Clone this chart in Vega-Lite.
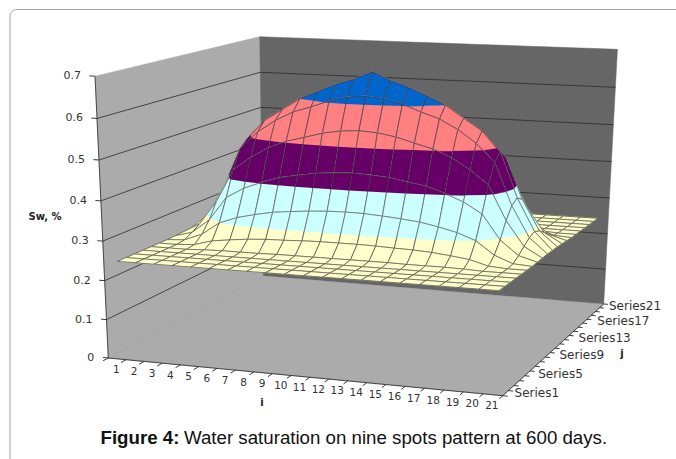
{"$schema":"https://vega.github.io/schema/vega-lite/v6.json","width":676,"height":459,"padding":0,"background":"#ffffff","autosize":{"type":"none"},"config":{"view":{"stroke":null}},
"resolve":{"scale":{"fill":"independent","stroke":"independent"}},
"datasets":{"surface":[
{"i":1,"j":21,"s":0.246},{"i":2,"j":21,"s":0.246},{"i":3,"j":21,"s":0.246},{"i":4,"j":21,"s":0.246},{"i":5,"j":21,"s":0.246},{"i":6,"j":21,"s":0.246},{"i":7,"j":21,"s":0.246},{"i":8,"j":21,"s":0.246},{"i":9,"j":21,"s":0.246},{"i":10,"j":21,"s":0.246},{"i":11,"j":21,"s":0.246},{"i":12,"j":21,"s":0.246},{"i":13,"j":21,"s":0.246},{"i":14,"j":21,"s":0.246},{"i":15,"j":21,"s":0.246},{"i":16,"j":21,"s":0.246},{"i":17,"j":21,"s":0.246},{"i":18,"j":21,"s":0.246},{"i":19,"j":21,"s":0.246},{"i":20,"j":21,"s":0.246},{"i":21,"j":21,"s":0.246},
{"i":1,"j":20,"s":0.246},{"i":2,"j":20,"s":0.246},{"i":3,"j":20,"s":0.246},{"i":4,"j":20,"s":0.246},{"i":5,"j":20,"s":0.246},{"i":6,"j":20,"s":0.246},{"i":7,"j":20,"s":0.246},{"i":8,"j":20,"s":0.246},{"i":9,"j":20,"s":0.246},{"i":10,"j":20,"s":0.246},{"i":11,"j":20,"s":0.246},{"i":12,"j":20,"s":0.246},{"i":13,"j":20,"s":0.246},{"i":14,"j":20,"s":0.246},{"i":15,"j":20,"s":0.246},{"i":16,"j":20,"s":0.246},{"i":17,"j":20,"s":0.246},{"i":18,"j":20,"s":0.246},{"i":19,"j":20,"s":0.246},{"i":20,"j":20,"s":0.246},{"i":21,"j":20,"s":0.246},
{"i":1,"j":19,"s":0.246},{"i":2,"j":19,"s":0.246},{"i":3,"j":19,"s":0.246},{"i":4,"j":19,"s":0.246},{"i":5,"j":19,"s":0.246},{"i":6,"j":19,"s":0.246},{"i":7,"j":19,"s":0.246},{"i":8,"j":19,"s":0.246},{"i":9,"j":19,"s":0.246},{"i":10,"j":19,"s":0.246},{"i":11,"j":19,"s":0.246},{"i":12,"j":19,"s":0.246},{"i":13,"j":19,"s":0.246},{"i":14,"j":19,"s":0.246},{"i":15,"j":19,"s":0.246},{"i":16,"j":19,"s":0.246},{"i":17,"j":19,"s":0.246},{"i":18,"j":19,"s":0.246},{"i":19,"j":19,"s":0.246},{"i":20,"j":19,"s":0.246},{"i":21,"j":19,"s":0.246},
{"i":1,"j":18,"s":0.246},{"i":2,"j":18,"s":0.246},{"i":3,"j":18,"s":0.246},{"i":4,"j":18,"s":0.246},{"i":5,"j":18,"s":0.246},{"i":6,"j":18,"s":0.246},{"i":7,"j":18,"s":0.246},{"i":8,"j":18,"s":0.246},{"i":9,"j":18,"s":0.246},{"i":10,"j":18,"s":0.246},{"i":11,"j":18,"s":0.246},{"i":12,"j":18,"s":0.246},{"i":13,"j":18,"s":0.246},{"i":14,"j":18,"s":0.246},{"i":15,"j":18,"s":0.246},{"i":16,"j":18,"s":0.246},{"i":17,"j":18,"s":0.246},{"i":18,"j":18,"s":0.246},{"i":19,"j":18,"s":0.246},{"i":20,"j":18,"s":0.246},{"i":21,"j":18,"s":0.246},
{"i":1,"j":17,"s":0.246},{"i":2,"j":17,"s":0.246},{"i":3,"j":17,"s":0.246},{"i":4,"j":17,"s":0.248},{"i":5,"j":17,"s":0.249},{"i":6,"j":17,"s":0.249},{"i":7,"j":17,"s":0.249},{"i":8,"j":17,"s":0.25},{"i":9,"j":17,"s":0.25},{"i":10,"j":17,"s":0.25},{"i":11,"j":17,"s":0.25},{"i":12,"j":17,"s":0.25},{"i":13,"j":17,"s":0.25},{"i":14,"j":17,"s":0.25},{"i":15,"j":17,"s":0.249},{"i":16,"j":17,"s":0.249},{"i":17,"j":17,"s":0.249},{"i":18,"j":17,"s":0.248},{"i":19,"j":17,"s":0.246},{"i":20,"j":17,"s":0.246},{"i":21,"j":17,"s":0.246},
{"i":1,"j":16,"s":0.246},{"i":2,"j":16,"s":0.246},{"i":3,"j":16,"s":0.249},{"i":4,"j":16,"s":0.262},{"i":5,"j":16,"s":0.268},{"i":6,"j":16,"s":0.273},{"i":7,"j":16,"s":0.276},{"i":8,"j":16,"s":0.277},{"i":9,"j":16,"s":0.279},{"i":10,"j":16,"s":0.28},{"i":11,"j":16,"s":0.28},{"i":12,"j":16,"s":0.28},{"i":13,"j":16,"s":0.279},{"i":14,"j":16,"s":0.277},{"i":15,"j":16,"s":0.276},{"i":16,"j":16,"s":0.273},{"i":17,"j":16,"s":0.268},{"i":18,"j":16,"s":0.262},{"i":19,"j":16,"s":0.249},{"i":20,"j":16,"s":0.246},{"i":21,"j":16,"s":0.246},
{"i":1,"j":15,"s":0.246},{"i":2,"j":15,"s":0.249},{"i":3,"j":15,"s":0.267},{"i":4,"j":15,"s":0.3},{"i":5,"j":15,"s":0.317},{"i":6,"j":15,"s":0.328},{"i":7,"j":15,"s":0.337},{"i":8,"j":15,"s":0.342},{"i":9,"j":15,"s":0.346},{"i":10,"j":15,"s":0.349},{"i":11,"j":15,"s":0.35},{"i":12,"j":15,"s":0.349},{"i":13,"j":15,"s":0.346},{"i":14,"j":15,"s":0.342},{"i":15,"j":15,"s":0.337},{"i":16,"j":15,"s":0.328},{"i":17,"j":15,"s":0.317},{"i":18,"j":15,"s":0.3},{"i":19,"j":15,"s":0.267},{"i":20,"j":15,"s":0.249},{"i":21,"j":15,"s":0.246},
{"i":1,"j":14,"s":0.247},{"i":2,"j":14,"s":0.26},{"i":3,"j":14,"s":0.296},{"i":4,"j":14,"s":0.358},{"i":5,"j":14,"s":0.385},{"i":6,"j":14,"s":0.403},{"i":7,"j":14,"s":0.418},{"i":8,"j":14,"s":0.426},{"i":9,"j":14,"s":0.434},{"i":10,"j":14,"s":0.438},{"i":11,"j":14,"s":0.44},{"i":12,"j":14,"s":0.438},{"i":13,"j":14,"s":0.434},{"i":14,"j":14,"s":0.426},{"i":15,"j":14,"s":0.418},{"i":16,"j":14,"s":0.403},{"i":17,"j":14,"s":0.385},{"i":18,"j":14,"s":0.358},{"i":19,"j":14,"s":0.296},{"i":20,"j":14,"s":0.26},{"i":21,"j":14,"s":0.247},
{"i":1,"j":13,"s":0.248},{"i":2,"j":13,"s":0.274},{"i":3,"j":13,"s":0.336},{"i":4,"j":13,"s":0.422},{"i":5,"j":13,"s":0.457},{"i":6,"j":13,"s":0.484},{"i":7,"j":13,"s":0.504},{"i":8,"j":13,"s":0.516},{"i":9,"j":13,"s":0.529},{"i":10,"j":13,"s":0.537},{"i":11,"j":13,"s":0.54},{"i":12,"j":13,"s":0.537},{"i":13,"j":13,"s":0.529},{"i":14,"j":13,"s":0.516},{"i":15,"j":13,"s":0.504},{"i":16,"j":13,"s":0.484},{"i":17,"j":13,"s":0.457},{"i":18,"j":13,"s":0.422},{"i":19,"j":13,"s":0.336},{"i":20,"j":13,"s":0.274},{"i":21,"j":13,"s":0.248},
{"i":1,"j":12,"s":0.249},{"i":2,"j":12,"s":0.287},{"i":3,"j":12,"s":0.365},{"i":4,"j":12,"s":0.471},{"i":5,"j":12,"s":0.516},{"i":6,"j":12,"s":0.548},{"i":7,"j":12,"s":0.572},{"i":8,"j":12,"s":0.587},{"i":9,"j":12,"s":0.604},{"i":10,"j":12,"s":0.616},{"i":11,"j":12,"s":0.62},{"i":12,"j":12,"s":0.616},{"i":13,"j":12,"s":0.604},{"i":14,"j":12,"s":0.587},{"i":15,"j":12,"s":0.572},{"i":16,"j":12,"s":0.548},{"i":17,"j":12,"s":0.516},{"i":18,"j":12,"s":0.471},{"i":19,"j":12,"s":0.365},{"i":20,"j":12,"s":0.287},{"i":21,"j":12,"s":0.249},
{"i":1,"j":11,"s":0.249},{"i":2,"j":11,"s":0.294},{"i":3,"j":11,"s":0.377},{"i":4,"j":11,"s":0.49},{"i":5,"j":11,"s":0.54},{"i":6,"j":11,"s":0.57},{"i":7,"j":11,"s":0.6},{"i":8,"j":11,"s":0.62},{"i":9,"j":11,"s":0.64},{"i":10,"j":11,"s":0.655},{"i":11,"j":11,"s":0.675},{"i":12,"j":11,"s":0.655},{"i":13,"j":11,"s":0.64},{"i":14,"j":11,"s":0.62},{"i":15,"j":11,"s":0.6},{"i":16,"j":11,"s":0.57},{"i":17,"j":11,"s":0.54},{"i":18,"j":11,"s":0.49},{"i":19,"j":11,"s":0.377},{"i":20,"j":11,"s":0.294},{"i":21,"j":11,"s":0.249},
{"i":1,"j":10,"s":0.249},{"i":2,"j":10,"s":0.287},{"i":3,"j":10,"s":0.365},{"i":4,"j":10,"s":0.471},{"i":5,"j":10,"s":0.516},{"i":6,"j":10,"s":0.548},{"i":7,"j":10,"s":0.572},{"i":8,"j":10,"s":0.587},{"i":9,"j":10,"s":0.604},{"i":10,"j":10,"s":0.616},{"i":11,"j":10,"s":0.62},{"i":12,"j":10,"s":0.616},{"i":13,"j":10,"s":0.604},{"i":14,"j":10,"s":0.587},{"i":15,"j":10,"s":0.572},{"i":16,"j":10,"s":0.548},{"i":17,"j":10,"s":0.516},{"i":18,"j":10,"s":0.471},{"i":19,"j":10,"s":0.365},{"i":20,"j":10,"s":0.287},{"i":21,"j":10,"s":0.249},
{"i":1,"j":9,"s":0.248},{"i":2,"j":9,"s":0.274},{"i":3,"j":9,"s":0.336},{"i":4,"j":9,"s":0.422},{"i":5,"j":9,"s":0.457},{"i":6,"j":9,"s":0.484},{"i":7,"j":9,"s":0.504},{"i":8,"j":9,"s":0.516},{"i":9,"j":9,"s":0.529},{"i":10,"j":9,"s":0.537},{"i":11,"j":9,"s":0.54},{"i":12,"j":9,"s":0.537},{"i":13,"j":9,"s":0.529},{"i":14,"j":9,"s":0.516},{"i":15,"j":9,"s":0.504},{"i":16,"j":9,"s":0.484},{"i":17,"j":9,"s":0.457},{"i":18,"j":9,"s":0.422},{"i":19,"j":9,"s":0.336},{"i":20,"j":9,"s":0.274},{"i":21,"j":9,"s":0.248},
{"i":1,"j":8,"s":0.247},{"i":2,"j":8,"s":0.26},{"i":3,"j":8,"s":0.296},{"i":4,"j":8,"s":0.358},{"i":5,"j":8,"s":0.385},{"i":6,"j":8,"s":0.403},{"i":7,"j":8,"s":0.418},{"i":8,"j":8,"s":0.426},{"i":9,"j":8,"s":0.434},{"i":10,"j":8,"s":0.438},{"i":11,"j":8,"s":0.44},{"i":12,"j":8,"s":0.438},{"i":13,"j":8,"s":0.434},{"i":14,"j":8,"s":0.426},{"i":15,"j":8,"s":0.418},{"i":16,"j":8,"s":0.403},{"i":17,"j":8,"s":0.385},{"i":18,"j":8,"s":0.358},{"i":19,"j":8,"s":0.296},{"i":20,"j":8,"s":0.26},{"i":21,"j":8,"s":0.247},
{"i":1,"j":7,"s":0.246},{"i":2,"j":7,"s":0.249},{"i":3,"j":7,"s":0.267},{"i":4,"j":7,"s":0.3},{"i":5,"j":7,"s":0.317},{"i":6,"j":7,"s":0.328},{"i":7,"j":7,"s":0.337},{"i":8,"j":7,"s":0.342},{"i":9,"j":7,"s":0.346},{"i":10,"j":7,"s":0.349},{"i":11,"j":7,"s":0.35},{"i":12,"j":7,"s":0.349},{"i":13,"j":7,"s":0.346},{"i":14,"j":7,"s":0.342},{"i":15,"j":7,"s":0.337},{"i":16,"j":7,"s":0.328},{"i":17,"j":7,"s":0.317},{"i":18,"j":7,"s":0.3},{"i":19,"j":7,"s":0.267},{"i":20,"j":7,"s":0.249},{"i":21,"j":7,"s":0.246},
{"i":1,"j":6,"s":0.246},{"i":2,"j":6,"s":0.246},{"i":3,"j":6,"s":0.249},{"i":4,"j":6,"s":0.262},{"i":5,"j":6,"s":0.268},{"i":6,"j":6,"s":0.273},{"i":7,"j":6,"s":0.276},{"i":8,"j":6,"s":0.277},{"i":9,"j":6,"s":0.279},{"i":10,"j":6,"s":0.28},{"i":11,"j":6,"s":0.28},{"i":12,"j":6,"s":0.28},{"i":13,"j":6,"s":0.279},{"i":14,"j":6,"s":0.277},{"i":15,"j":6,"s":0.276},{"i":16,"j":6,"s":0.273},{"i":17,"j":6,"s":0.268},{"i":18,"j":6,"s":0.262},{"i":19,"j":6,"s":0.249},{"i":20,"j":6,"s":0.246},{"i":21,"j":6,"s":0.246},
{"i":1,"j":5,"s":0.246},{"i":2,"j":5,"s":0.246},{"i":3,"j":5,"s":0.246},{"i":4,"j":5,"s":0.248},{"i":5,"j":5,"s":0.249},{"i":6,"j":5,"s":0.249},{"i":7,"j":5,"s":0.249},{"i":8,"j":5,"s":0.25},{"i":9,"j":5,"s":0.25},{"i":10,"j":5,"s":0.25},{"i":11,"j":5,"s":0.25},{"i":12,"j":5,"s":0.25},{"i":13,"j":5,"s":0.25},{"i":14,"j":5,"s":0.25},{"i":15,"j":5,"s":0.249},{"i":16,"j":5,"s":0.249},{"i":17,"j":5,"s":0.249},{"i":18,"j":5,"s":0.248},{"i":19,"j":5,"s":0.246},{"i":20,"j":5,"s":0.246},{"i":21,"j":5,"s":0.246},
{"i":1,"j":4,"s":0.246},{"i":2,"j":4,"s":0.246},{"i":3,"j":4,"s":0.246},{"i":4,"j":4,"s":0.246},{"i":5,"j":4,"s":0.246},{"i":6,"j":4,"s":0.246},{"i":7,"j":4,"s":0.246},{"i":8,"j":4,"s":0.246},{"i":9,"j":4,"s":0.246},{"i":10,"j":4,"s":0.246},{"i":11,"j":4,"s":0.246},{"i":12,"j":4,"s":0.246},{"i":13,"j":4,"s":0.246},{"i":14,"j":4,"s":0.246},{"i":15,"j":4,"s":0.246},{"i":16,"j":4,"s":0.246},{"i":17,"j":4,"s":0.246},{"i":18,"j":4,"s":0.246},{"i":19,"j":4,"s":0.246},{"i":20,"j":4,"s":0.246},{"i":21,"j":4,"s":0.246},
{"i":1,"j":3,"s":0.246},{"i":2,"j":3,"s":0.246},{"i":3,"j":3,"s":0.246},{"i":4,"j":3,"s":0.246},{"i":5,"j":3,"s":0.246},{"i":6,"j":3,"s":0.246},{"i":7,"j":3,"s":0.246},{"i":8,"j":3,"s":0.246},{"i":9,"j":3,"s":0.246},{"i":10,"j":3,"s":0.246},{"i":11,"j":3,"s":0.246},{"i":12,"j":3,"s":0.246},{"i":13,"j":3,"s":0.246},{"i":14,"j":3,"s":0.246},{"i":15,"j":3,"s":0.246},{"i":16,"j":3,"s":0.246},{"i":17,"j":3,"s":0.246},{"i":18,"j":3,"s":0.246},{"i":19,"j":3,"s":0.246},{"i":20,"j":3,"s":0.246},{"i":21,"j":3,"s":0.246},
{"i":1,"j":2,"s":0.246},{"i":2,"j":2,"s":0.246},{"i":3,"j":2,"s":0.246},{"i":4,"j":2,"s":0.246},{"i":5,"j":2,"s":0.246},{"i":6,"j":2,"s":0.246},{"i":7,"j":2,"s":0.246},{"i":8,"j":2,"s":0.246},{"i":9,"j":2,"s":0.246},{"i":10,"j":2,"s":0.246},{"i":11,"j":2,"s":0.246},{"i":12,"j":2,"s":0.246},{"i":13,"j":2,"s":0.246},{"i":14,"j":2,"s":0.246},{"i":15,"j":2,"s":0.246},{"i":16,"j":2,"s":0.246},{"i":17,"j":2,"s":0.246},{"i":18,"j":2,"s":0.246},{"i":19,"j":2,"s":0.246},{"i":20,"j":2,"s":0.246},{"i":21,"j":2,"s":0.246},
{"i":1,"j":1,"s":0.246},{"i":2,"j":1,"s":0.246},{"i":3,"j":1,"s":0.246},{"i":4,"j":1,"s":0.246},{"i":5,"j":1,"s":0.246},{"i":6,"j":1,"s":0.246},{"i":7,"j":1,"s":0.246},{"i":8,"j":1,"s":0.246},{"i":9,"j":1,"s":0.246},{"i":10,"j":1,"s":0.246},{"i":11,"j":1,"s":0.246},{"i":12,"j":1,"s":0.246},{"i":13,"j":1,"s":0.246},{"i":14,"j":1,"s":0.246},{"i":15,"j":1,"s":0.246},{"i":16,"j":1,"s":0.246},{"i":17,"j":1,"s":0.246},{"i":18,"j":1,"s":0.246},{"i":19,"j":1,"s":0.246},{"i":20,"j":1,"s":0.246},{"i":21,"j":1,"s":0.246}
]},
"encoding":{"x":{"field":"px","type":"quantitative","axis":null,"scale":{"domain":[0,676],"nice":false,"zero":false}},"y":{"field":"py","type":"quantitative","axis":null,"scale":{"domain":[0,459],"reverse":true,"nice":false,"zero":false}}},
"layer":[
{"data":{"values":[{"part":"left","o":0,"i":0.5,"j":0.5,"s":0},{"part":"left","o":1,"i":0.5,"j":0.5,"s":0.7},{"part":"left","o":2,"i":0.5,"j":21.5,"s":0.7},{"part":"left","o":3,"i":0.5,"j":21.5,"s":0},
{"part":"floor","o":0,"i":0.5,"j":0.5,"s":0},{"part":"floor","o":1,"i":21.5,"j":0.5,"s":0},{"part":"floor","o":2,"i":21.5,"j":21.5,"s":0},{"part":"floor","o":3,"i":0.5,"j":21.5,"s":0},{"part":"floor","o":4,"i":0.5,"j":0.5,"s":0},
{"part":"back","o":0,"i":0.5,"j":21.5,"s":0},{"part":"back","o":1,"i":0.5,"j":21.5,"s":0.7},{"part":"back","o":2,"i":21.5,"j":21.5,"s":0.7},{"part":"back","o":3,"i":21.5,"j":21.5,"s":0}]},
"transform":[{"calculate":"(datum.i-0.5)/21","as":"u"},{"calculate":"(datum.j-0.5)/21","as":"v"},{"calculate":"datum.s/0.7","as":"z"},{"calculate":"1-0.04906*datum.u+0.17319*datum.v-0.055*datum.z","as":"w"},{"calculate":"(108.3+369.74*datum.u+200.6*datum.v-18.5*datum.z)/datum.w","as":"px"},{"calculate":"(358+18.29*datum.u-34.55*datum.v-286*datum.z-6.6*datum.u*datum.z+3.6*datum.v*datum.z)/datum.w","as":"py"}],
"mark":{"type":"line","strokeWidth":0.5},
"encoding":{"order":{"field":"o"},"fill":{"field":"part","type":"nominal","legend":null,"scale":{"domain":["left","floor","back"],"range":["#ababab","#ababab","#666666"]}},"stroke":{"field":"part","type":"nominal","legend":null,"scale":{"domain":["left","floor","back"],"range":["#ababab","#8c8c8c","#666666"]}}}},
{"data":{"values":[{"g":1,"o":0,"i":0.5,"j":0.5,"s":0.1},{"g":1,"o":1,"i":0.5,"j":21.5,"s":0.1},{"g":1,"o":2,"i":21.5,"j":21.5,"s":0.1},
{"g":2,"o":0,"i":0.5,"j":0.5,"s":0.2},{"g":2,"o":1,"i":0.5,"j":21.5,"s":0.2},{"g":2,"o":2,"i":21.5,"j":21.5,"s":0.2},
{"g":3,"o":0,"i":0.5,"j":0.5,"s":0.3},{"g":3,"o":1,"i":0.5,"j":21.5,"s":0.3},{"g":3,"o":2,"i":21.5,"j":21.5,"s":0.3},
{"g":4,"o":0,"i":0.5,"j":0.5,"s":0.4},{"g":4,"o":1,"i":0.5,"j":21.5,"s":0.4},{"g":4,"o":2,"i":21.5,"j":21.5,"s":0.4},
{"g":5,"o":0,"i":0.5,"j":0.5,"s":0.5},{"g":5,"o":1,"i":0.5,"j":21.5,"s":0.5},{"g":5,"o":2,"i":21.5,"j":21.5,"s":0.5},
{"g":6,"o":0,"i":0.5,"j":0.5,"s":0.6},{"g":6,"o":1,"i":0.5,"j":21.5,"s":0.6},{"g":6,"o":2,"i":21.5,"j":21.5,"s":0.6},
{"g":7,"o":0,"i":0.5,"j":0.5,"s":0},{"g":7,"o":1,"i":0.5,"j":0.5,"s":0.7},
{"g":9,"o":0,"i":0.5,"j":0.5,"s":0},{"g":9,"o":1,"i":21.5,"j":0.5,"s":0},{"g":9,"o":2,"i":21.5,"j":21.5,"s":0}]},
"transform":[{"calculate":"(datum.i-0.5)/21","as":"u"},{"calculate":"(datum.j-0.5)/21","as":"v"},{"calculate":"datum.s/0.7","as":"z"},{"calculate":"1-0.04906*datum.u+0.17319*datum.v-0.055*datum.z","as":"w"},{"calculate":"(108.3+369.74*datum.u+200.6*datum.v-18.5*datum.z)/datum.w","as":"px"},{"calculate":"(358+18.29*datum.u-34.55*datum.v-286*datum.z-6.6*datum.u*datum.z+3.6*datum.v*datum.z)/datum.w","as":"py"}],
"mark":{"type":"line","stroke":"#2b2b2b","strokeWidth":0.8},
"encoding":{"order":{"field":"o"},"detail":{"field":"g"}}},
{"data":{"name":"surface"},
"transform":[{"filter":"datum.i<21 && datum.j<21"},
{"calculate":"data('surface')[(21-datum.j)*21+datum.i].s","as":"s1"},
{"calculate":"data('surface')[(20-datum.j)*21+datum.i].s","as":"s2"},
{"calculate":"data('surface')[(20-datum.j)*21+datum.i-1].s","as":"s3"},
{"calculate":"[datum.s,datum.s1,datum.s2,datum.s3]","as":"sa"},
{"calculate":"[datum.i,datum.i+1,datum.i+1,datum.i]","as":"ia"},
{"calculate":"[datum.j,datum.j,datum.j+1,datum.j+1]","as":"ja"},
{"calculate":"[0,1,2,3,4,5]","as":"band"},{"flatten":["band"]},
{"calculate":"[-1,0.3,0.4,0.5,0.6,-1][datum.band]","as":"t"},
{"filter":"max(datum.s,datum.s1,datum.s2,datum.s3)>=datum.t"},
{"calculate":"[0,1,2,3,4,5,6,7,8]","as":"slot"},{"flatten":["slot"]},
{"calculate":"floor(datum.slot/2)%4","as":"a"},{"calculate":"(datum.a+1)%4","as":"b"},
{"calculate":"datum.sa[datum.a]","as":"sA"},{"calculate":"datum.sa[datum.b]","as":"sB"},
{"filter":"datum.slot==8 ? datum.band==5 : (datum.slot%2==0 ? datum.sA>=datum.t : (datum.sA>=datum.t)!=(datum.sB>=datum.t))"},
{"calculate":"datum.slot%2==0 ? 0 : (datum.t-datum.sA)/(datum.sB-datum.sA)","as":"f"},
{"calculate":"datum.ia[datum.a]+(datum.ia[datum.b]-datum.ia[datum.a])*datum.f","as":"I"},
{"calculate":"datum.ja[datum.a]+(datum.ja[datum.b]-datum.ja[datum.a])*datum.f","as":"J"},
{"calculate":"datum.sA+(datum.sB-datum.sA)*datum.f","as":"S"},
{"calculate":"datum.i*1000+datum.j*10+datum.band","as":"g"},
{"calculate":"(datum.I-0.5)/21","as":"u"},{"calculate":"(datum.J-0.5)/21","as":"v"},{"calculate":"datum.S/0.7","as":"z"},{"calculate":"1-0.04906*datum.u+0.17319*datum.v-0.055*datum.z","as":"w"},{"calculate":"(108.3+369.74*datum.u+200.6*datum.v-18.5*datum.z)/datum.w","as":"px"},{"calculate":"(358+18.29*datum.u-34.55*datum.v-286*datum.z-6.6*datum.u*datum.z+3.6*datum.v*datum.z)/datum.w","as":"py"}],
"mark":{"type":"line","strokeWidth":0.6,"strokeJoin":"round"},
"encoding":{"order":{"field":"slot"},"detail":{"field":"g"},
"fill":{"field":"band","type":"nominal","legend":null,"scale":{"domain":[0,1,2,3,4,5],"range":["#ffffcc","#ccffff","#660066","#ff8080","#0066cc","transparent"]}},
"stroke":{"field":"band","type":"nominal","legend":null,"scale":{"domain":[0,1,2,3,4,5],"range":["#ffffcc","#ccffff","#660066","#ff8080","#0066cc","#333333"]}}}},
{"data":{"values":[{"a":"i","v":0.5},{"a":"i","v":1.5},{"a":"i","v":2.5},{"a":"i","v":3.5},{"a":"i","v":4.5},{"a":"i","v":5.5},{"a":"i","v":6.5},{"a":"i","v":7.5},{"a":"i","v":8.5},{"a":"i","v":9.5},{"a":"i","v":10.5},{"a":"i","v":11.5},{"a":"i","v":12.5},{"a":"i","v":13.5},{"a":"i","v":14.5},{"a":"i","v":15.5},{"a":"i","v":16.5},{"a":"i","v":17.5},{"a":"i","v":18.5},{"a":"i","v":19.5},{"a":"i","v":20.5},{"a":"i","v":21.5},
{"a":"j","v":0.5},{"a":"j","v":1.5},{"a":"j","v":2.5},{"a":"j","v":3.5},{"a":"j","v":4.5},{"a":"j","v":5.5},{"a":"j","v":6.5},{"a":"j","v":7.5},{"a":"j","v":8.5},{"a":"j","v":9.5},{"a":"j","v":10.5},{"a":"j","v":11.5},{"a":"j","v":12.5},{"a":"j","v":13.5},{"a":"j","v":14.5},{"a":"j","v":15.5},{"a":"j","v":16.5},{"a":"j","v":17.5},{"a":"j","v":18.5},{"a":"j","v":19.5},{"a":"j","v":20.5},{"a":"j","v":21.5},
{"a":"s","v":0},{"a":"s","v":0.1},{"a":"s","v":0.2},{"a":"s","v":0.3},{"a":"s","v":0.4},{"a":"s","v":0.5},{"a":"s","v":0.6},{"a":"s","v":0.7}]},
"transform":[{"calculate":"[0,1]","as":"o"},{"flatten":["o"]},
{"calculate":"datum.a=='i' ? datum.v : (datum.a=='j' ? 21.5+0.25*datum.o : 0.5-0.3*datum.o)","as":"i"},
{"calculate":"datum.a=='i' ? 0.5-0.6*datum.o : (datum.a=='j' ? datum.v : 0.5)","as":"j"},
{"calculate":"datum.a=='s' ? datum.v : 0","as":"s"},
{"calculate":"datum.a+datum.v","as":"g"},
{"calculate":"(datum.i-0.5)/21","as":"u"},{"calculate":"(datum.j-0.5)/21","as":"v2"},{"calculate":"datum.s/0.7","as":"z"},{"calculate":"1-0.04906*datum.u+0.17319*datum.v2-0.055*datum.z","as":"w"},{"calculate":"(108.3+369.74*datum.u+200.6*datum.v2-18.5*datum.z)/datum.w","as":"px"},{"calculate":"(358+18.29*datum.u-34.55*datum.v2-286*datum.z)/datum.w","as":"py"}],
"mark":{"type":"line","stroke":"#222222","strokeWidth":0.9},
"encoding":{"order":{"field":"o"},"detail":{"field":"g"}}},
{"data":{"values":[{"label":"1","i":1},{"label":"2","i":2},{"label":"3","i":3},{"label":"4","i":4},{"label":"5","i":5},{"label":"6","i":6},{"label":"7","i":7},{"label":"8","i":8},{"label":"9","i":9},{"label":"10","i":10},{"label":"11","i":11},{"label":"12","i":12},{"label":"13","i":13},{"label":"14","i":14},{"label":"15","i":15},{"label":"16","i":16},{"label":"17","i":17},{"label":"18","i":18},{"label":"19","i":19},{"label":"20","i":20},{"label":"21","i":21}]},
"transform":[{"calculate":"(datum.i-0.5)/21","as":"u"},{"calculate":"1-0.04906*datum.u","as":"w"},{"calculate":"(108.3+369.74*datum.u)/datum.w","as":"px"},{"calculate":"(358+18.29*datum.u)/datum.w","as":"py"}],
"mark":{"type":"text","font":"DejaVu Sans","fontSize":10.5,"fill":"#333333","dy":11.5,"dx":-1,"align":"center","baseline":"middle"},
"encoding":{"text":{"field":"label"}}},
{"data":{"values":[{"label":"Series1","j":1,"i":21.5},{"label":"Series5","j":5,"i":21.6},{"label":"Series9","j":9,"i":21.65},{"label":"Series13","j":13,"i":21.65},{"label":"Series17","j":17,"i":21.7},{"label":"Series21","j":21,"i":21.4}]},
"transform":[{"calculate":"(datum.i-0.5)/21","as":"u"},{"calculate":"(datum.j-0.5)/21","as":"v"},{"calculate":"1-0.04906*datum.u+0.17319*datum.v","as":"w"},{"calculate":"(108.3+369.74*datum.u+200.6*datum.v)/datum.w","as":"px"},{"calculate":"(358+18.29*datum.u-34.55*datum.v)/datum.w","as":"py"}],
"mark":{"type":"text","font":"DejaVu Sans","fontSize":12,"fill":"#333333","dx":9,"dy":0,"align":"left","baseline":"middle"},
"encoding":{"text":{"field":"label"}}},
{"data":{"values":[{"label":"0","s":0},{"label":"0.1","s":0.1},{"label":"0.2","s":0.2},{"label":"0.3","s":0.3},{"label":"0.4","s":0.4},{"label":"0.5","s":0.5},{"label":"0.6","s":0.6},{"label":"0.7","s":0.7}]},
"transform":[{"calculate":"datum.s/0.7","as":"z"},{"calculate":"1-0.055*datum.z","as":"w"},{"calculate":"(108.3-18.5*datum.z)/datum.w","as":"px"},{"calculate":"(358-286*datum.z)/datum.w","as":"py"}],
"mark":{"type":"text","font":"DejaVu Sans","fontSize":11,"fill":"#333333","dx":-14,"align":"right","baseline":"middle"},
"encoding":{"text":{"field":"label"}}},
{"data":{"values":[{"label":"Sw, %"}]},"mark":{"type":"text","font":"DejaVu Sans","fontWeight":"bold","fontSize":10,"fill":"#222222","align":"center","baseline":"middle"},"encoding":{"text":{"field":"label"},"x":{"value":45},"y":{"value":217}}},
{"data":{"values":[{"label":"i"}]},"mark":{"type":"text","font":"DejaVu Sans","fontWeight":"bold","fontSize":10,"fill":"#222222","align":"center","baseline":"middle"},"encoding":{"text":{"field":"label"},"x":{"value":262},"y":{"value":403}}},
{"data":{"values":[{"label":"j"}]},"mark":{"type":"text","font":"DejaVu Sans","fontWeight":"bold","fontSize":10,"fill":"#222222","align":"center","baseline":"middle"},"encoding":{"text":{"field":"label"},"x":{"value":622},"y":{"value":354}}},
{"data":{"values":[{"label":"Figure 4:"}]},"mark":{"type":"text","font":"Liberation Sans","fontWeight":"bold","fontSize":18.7,"fill":"#111111","align":"left","baseline":"middle"},"encoding":{"text":{"field":"label"},"x":{"value":100.5},"y":{"value":438}}},
{"data":{"values":[{"label":"Water saturation on nine spots pattern at 600 days."}]},"mark":{"type":"text","font":"Liberation Sans","fontSize":18.7,"fill":"#111111","align":"left","baseline":"middle"},"encoding":{"text":{"field":"label"},"x":{"value":184},"y":{"value":438}}},
{"data":{"values":[{"label":"frame"}]},"mark":{"type":"rect","fill":"transparent","stroke":"#a3a3a3","strokeWidth":1,"cornerRadius":7},"encoding":{"x":{"value":10},"x2":{"value":720},"y":{"value":9.5},"y2":{"value":500}}}
]}
